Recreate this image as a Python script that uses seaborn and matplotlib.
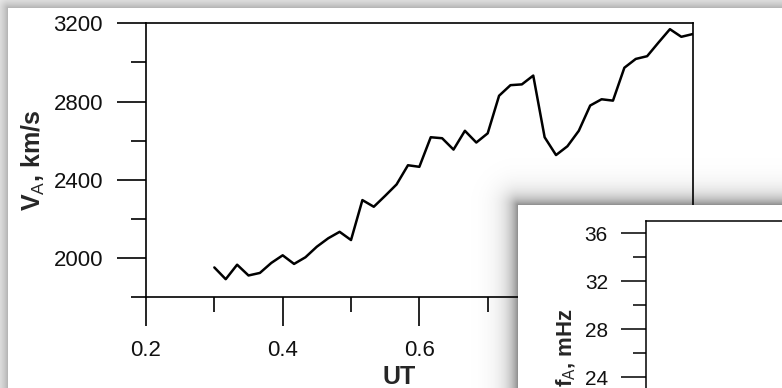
import numpy as np
import pandas as pd
import matplotlib
matplotlib.use("Agg")
import matplotlib.pyplot as plt
import seaborn as sns
from matplotlib.ticker import MultipleLocator, FormatStrFormatter

# Alfvén speed sampled once a minute, 0:18 to 1:00 UT
ut_minutes = list(range(18, 61))
va_kms = [1953, 1893, 1967, 1912, 1925, 1976, 2015, 1971, 2005, 2059,
          2102, 2135, 2093, 2297, 2263, 2319, 2377, 2475, 2467, 2618,
          2613, 2555, 2651, 2591, 2638, 2830, 2884, 2888, 2933, 2618,
          2527, 2572, 2651, 2780, 2812, 2805, 2973, 3018, 3032, 3102,
          3170, 3131, 3145]

ut_limits = (0.2, 1.0)
va_limits = (1800, 3200)
fa_limits = (16, 37)

df = pd.DataFrame({"UT": np.array(ut_minutes) / 60.0, "VA": va_kms})

sns.set_theme(style="ticks")
plt.rcParams["font.family"] = ["Liberation Sans", "DejaVu Sans"]
plt.rcParams["mathtext.fontset"] = "custom"
plt.rcParams["mathtext.rm"] = "Liberation Sans"
plt.rcParams["mathtext.it"] = "Liberation Sans:italic"
plt.rcParams["mathtext.bf"] = "Liberation Sans:bold"

W, H = 782, 388
fig = plt.figure(figsize=(W / 100, H / 100), dpi=100)
fig.patch.set_facecolor("white")


def frac(x0, y0, x1, y1):
    """Pixel box (top-left origin) -> figure fraction rect."""
    return [x0 / W, 1 - y1 / H, (x1 - x0) / W, (y1 - y0) / H]


yy, xx = np.mgrid[0:H, 0:W] + 0.5

# page shadow behind the first panel
d1 = np.hypot(np.clip(8 - xx, 0, None), np.clip(8 - yy, 0, None))
back = np.where(d1 > 0, 1 - 0.30 * np.exp(-d1 / 10), 1.0)
bg = fig.add_axes([0, 0, 1, 1], zorder=-1)
bg.imshow(np.dstack([back] * 3), extent=[0, W, H, 0], aspect="auto",
          interpolation="nearest")
bg.set_xlim(0, W)
bg.set_ylim(H, 0)
bg.axis("off")

# ---- V_A panel ----
ax = fig.add_axes(frac(146, 23.3, 692.7, 297.4), zorder=1)
sns.lineplot(data=df, x="UT", y="VA", ax=ax, color="black", lw=1.8)
ax.set_xlim(*ut_limits)
ax.set_ylim(*va_limits)
ax.xaxis.set_major_locator(MultipleLocator(0.2))
ax.xaxis.set_minor_locator(MultipleLocator(0.1))
ax.xaxis.set_major_formatter(FormatStrFormatter("%.1f"))
ax.yaxis.set_major_locator(MultipleLocator(400))
ax.yaxis.set_minor_locator(MultipleLocator(200))
ax.tick_params(which="major", length=20.9, width=1.2, pad=10,
               labelsize=16, direction="out", color="black",
               labelcolor="#111111")
ax.tick_params(which="minor", length=10.8, width=1.2, direction="out",
               color="black")
for s in ax.spines.values():
    s.set_linewidth(1.2)
    s.set_color("black")
ax.set_xlabel("UT", fontsize=18, fontweight="bold")
ax.xaxis.set_label_coords((399 - 146) / 546.7, (297.4 - 365) / 274.1)
ax.set_ylabel(r"$\mathbf{V}_{\mathrm{A}}$, km/s", fontsize=18,
              fontweight="bold")
ax.yaxis.set_label_coords((47 - 146) / 546.7, 0.5)

# ---- second panel card with its drop shadow ----
d2 = np.hypot(np.clip(518 - xx, 0, None), np.clip(205 - yy, 0, None))
inside = d2 == 0
card = np.zeros((H, W, 4))
card[..., :3] = np.where(inside, 1.0, 0.0)[..., None]
card[..., 3] = np.where(inside, 1.0, 0.45 * np.exp(-d2 / 10))
ov = fig.add_axes([0, 0, 1, 1], zorder=2)
ov.imshow(card, extent=[0, W, H, 0], aspect="auto", interpolation="nearest")
ov.set_xlim(0, W)
ov.set_ylim(H, 0)
ov.axis("off")

# ---- f_A panel ----
ax2 = fig.add_axes(frac(646, 221, 946, 473), zorder=3)
ax2.set_facecolor("white")
ax2.set_ylim(*fa_limits)
ax2.set_xlim(0, 1)
ax2.yaxis.set_major_locator(MultipleLocator(4))
ax2.yaxis.set_minor_locator(MultipleLocator(2))
ax2.set_xticks([])
ax2.tick_params(axis="y", which="major", length=18, width=1.1, pad=9.4,
                labelsize=15, direction="out", color="black",
                labelcolor="#111111")
ax2.tick_params(axis="y", which="minor", length=9.4, width=1.1,
                direction="out", color="black")
for s in ax2.spines.values():
    s.set_linewidth(1.1)
    s.set_color("black")
ax2.set_ylabel(r"$\mathbf{f}_{\mathrm{A}}$, mHz", fontsize=16,
               fontweight="bold")
ax2.yaxis.set_label_coords((578 - 646) / 300, 0.5)

fig.savefig("out.png", dpi=100)
